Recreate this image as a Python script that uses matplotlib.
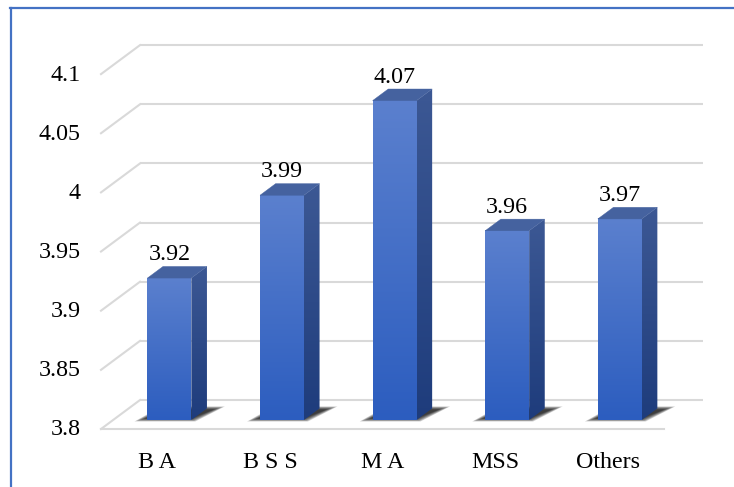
import numpy as np
import matplotlib
matplotlib.use("Agg")
import matplotlib.pyplot as plt
from matplotlib.patches import Polygon
from matplotlib.colors import LinearSegmentedColormap
from matplotlib.lines import Line2D

# ---- data ----
categories = ["B A", "B S S", "M A", "MSS", "Others"]
values = [3.92, 3.99, 4.07, 3.96, 3.97]
ticks = [3.8, 3.85, 3.9, 3.95, 4.0, 4.05, 4.1]
tick_labels = ["3.8", "3.85", "3.9", "3.95", "4", "4.05", "4.1"]
base = 3.8

# ---- pseudo-3D geometry (data units) ----
DEPTH_X = 0.3464      # horizontal shift from front to back wall
DEPTH_Y = 0.0245      # vertical shift from front to back wall
BAR_D0, BAR_D1 = 0.31, 0.71
HALF_W = 0.195

FONT = ["Liberation Serif", "DejaVu Serif"]
FS = 17.3
GRID = "#d9d9d9"


def proj(x, v, d):
    return x + DEPTH_X * d, v + DEPTH_Y * d


fig = plt.figure(figsize=(7.34, 4.87), dpi=100)
ax = fig.add_axes([0, 0, 1, 1])
ax.set_axis_off()
XLIM = (-1.397, 5.1217)
YLIM = (3.75097, 4.16264)

# frame
fig.add_artist(Line2D([0.015, 0.015], [0, 0.984], transform=fig.transFigure,
                      color="#4472c4", lw=1.6))
fig.add_artist(Line2D([0.0138, 1.0], [0.984, 0.984], transform=fig.transFigure,
                      color="#4472c4", lw=1.6))

n = len(categories)
x_left, x_right = -0.5, n - 0.5

# back wall grid lines and side-wall diagonals
for t in ticks:
    bx0, by = proj(x_left, t, 1)
    bx1, _ = proj(x_right, t, 1)
    ax.plot([bx0, bx1], [by, by], color=GRID, lw=1.5, zorder=1,
            solid_capstyle="butt")
    ax.plot([x_left, bx0], [t, by], color=GRID, lw=1.5, zorder=1)
# floor front edge
ax.plot([x_left, x_right], [base, base], color=GRID, lw=1.5, zorder=1)

# value labels on the left
for t, lab in zip(ticks, tick_labels):
    ax.text(x_left - 0.178, t - 0.0008, lab, ha="right", va="center",
            fontsize=FS, family=FONT, color="#000000")

# category labels
for i, c in enumerate(categories):
    ax.text(i, 3.7721, c, ha="center", va="center", fontsize=FS,
            family=FONT, color="#000000")

front_cmap = LinearSegmentedColormap.from_list("f", ["#2c5dbf", "#5b80ce"])
side_cmap = LinearSegmentedColormap.from_list("s", ["#1e3c7c", "#3c5894"])
grad = np.linspace(0, 1, 256).reshape(-1, 1)

px_x = 1 / 112.6
px_y = 1 / 1183.0

for i, v in enumerate(values):
    xl, xr = i - HALF_W, i + HALF_W
    fxl, fy0 = proj(xl, base, BAR_D0)
    fxr, _ = proj(xr, base, BAR_D0)
    _, fy1 = proj(xl, v, BAR_D0)
    bxl, by0 = proj(xl, base, BAR_D1)
    bxr, _ = proj(xr, base, BAR_D1)
    _, by1 = proj(xl, v, BAR_D1)

    # soft floor shadow, cast forward-left of the bar foot
    shadow = np.array([
        [fxl - 13 * px_x, fy0 - 1.5 * px_y],
        [fxr + 4 * px_x, fy0 - 1.5 * px_y],
        [bxr + 18 * px_x, by0 + 2 * px_y],
        [bxl - 2 * px_x, by0 + 2 * px_y],
    ])
    cen = shadow.mean(axis=0)
    for k in range(8):
        s = 1.0 - 0.035 * k
        pts = cen + (shadow - cen) * np.array([s, 1.0 - 0.06 * k])
        ax.add_patch(Polygon(pts, closed=True, facecolor="#000000",
                             edgecolor="none", alpha=0.16, zorder=2))

    # front face
    ax.imshow(grad, extent=[fxl, fxr, fy0, fy1], origin="lower",
              aspect="auto", cmap=front_cmap, zorder=4, interpolation="bilinear")

    # side face
    side = Polygon([[fxr, fy0], [bxr, by0], [bxr, by1], [fxr, fy1]],
                   closed=True, facecolor="none", edgecolor="none",
                   transform=ax.transData)
    ax.add_patch(side)
    im = ax.imshow(grad, extent=[fxr, bxr, fy0, by1], origin="lower",
                   aspect="auto", cmap=side_cmap, zorder=3,
                   interpolation="bilinear")
    im.set_clip_path(side)

    # top face
    ax.add_patch(Polygon([[fxl, fy1], [fxr, fy1], [bxr, by1], [bxl, by1]],
                         closed=True, facecolor="#45629f",
                         edgecolor="#45629f", lw=0.3, zorder=4))

    # value label
    ax.text(i + DEPTH_X * BAR_D0, by1 + 12 * px_y, f"{v:.2f}",
            ha="center", va="center", fontsize=FS, family=FONT,
            color="#000000", zorder=6)

ax.set_xlim(*XLIM)
ax.set_ylim(*YLIM)

fig.savefig("out.png", dpi=100)
